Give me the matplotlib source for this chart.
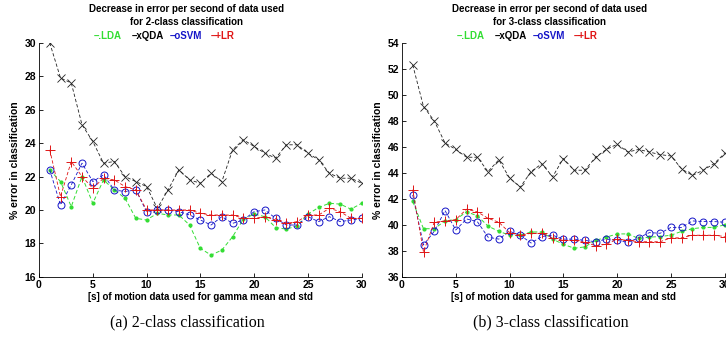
import matplotlib.pyplot as plt
import numpy as np

plt.rcParams['font.family'] = ['Liberation Sans', 'DejaVu Sans']

seconds = np.arange(1, 31)

# 2-class classification (% error)
lda_2 = [22.4, 21.7, 20.2, 22.0, 20.4, 21.8, 21.2, 20.7, 19.5, 19.4,
         19.8, 19.7, 19.7, 19.1, 17.7, 17.3, 17.6, 18.4, 19.45, 19.75,
         19.6, 18.95, 18.85, 19.05, 19.75, 20.15, 20.4, 20.35, 20.05, 20.4]
qda_2 = [30.0, 27.9, 27.6, 25.1, 24.1, 22.8, 22.9, 22.0, 21.7, 21.4,
         20.1, 21.2, 22.4, 21.8, 21.6, 22.2, 21.7, 23.6, 24.2, 23.8,
         23.4, 23.1, 23.9, 23.9, 23.4, 23.0, 22.2, 21.9, 21.9, 21.6]
svm_2 = [22.4, 20.3, 21.5, 22.8, 21.7, 22.1, 21.2, 21.1, 21.2, 19.9,
         20.0, 20.0, 19.9, 19.7, 19.4, 19.1, 19.6, 19.2, 19.4, 19.9,
         20.0, 19.5, 19.1, 19.1, 19.6, 19.3, 19.6, 19.3, 19.4, 19.5]
lr_2 = [23.6, 20.8, 22.9, 22.0, 21.3, 21.9, 21.8, 21.4, 21.2, 20.0,
        20.0, 20.0, 20.0, 20.0, 19.8, 19.7, 19.7, 19.7, 19.5, 19.5,
        19.6, 19.4, 19.2, 19.3, 19.7, 19.7, 20.1, 19.9, 19.5, 19.5]

# 3-class classification (% error)
lda_3 = [41.8, 39.7, 39.7, 40.3, 40.4, 41.0, 40.7, 39.9, 39.5, 39.2,
         39.2, 39.45, 39.45, 38.9, 38.5, 38.2, 38.3, 38.8, 39.05, 39.3,
         39.3, 38.95, 39.05, 39.1, 39.2, 39.5, 39.7, 39.8, 39.8, 40.0]
qda_3 = [52.3, 49.1, 48.0, 46.3, 45.8, 45.2, 45.2, 44.1, 45.0, 43.6,
         42.9, 44.1, 44.7, 43.7, 45.1, 44.2, 44.2, 45.2, 45.8, 46.2,
         45.6, 45.8, 45.6, 45.4, 45.3, 44.3, 43.8, 44.2, 44.7, 45.5]
svm_3 = [42.3, 38.45, 39.5, 41.1, 39.6, 40.45, 40.25, 39.05, 38.9, 39.5,
         39.2, 38.6, 39.1, 39.2, 38.9, 38.9, 38.8, 38.7, 38.9, 38.8,
         38.65, 39.0, 39.4, 39.35, 39.8, 39.8, 40.3, 40.25, 40.25, 40.2]
lr_3 = [42.7, 37.9, 40.2, 40.3, 40.4, 41.2, 41.0, 40.5, 40.2, 39.4,
        39.2, 39.35, 39.35, 39.0, 38.8, 38.8, 38.65, 38.4, 38.5, 38.9,
        38.8, 38.7, 38.7, 38.7, 39.0, 39.0, 39.2, 39.2, 39.2, 39.1]

GREEN = '#33dd33'
BLUE = '#1515c8'
RED = '#e01515'
DASH = (0, (4, 2.5))

fig = plt.figure(figsize=(7.26, 3.43), dpi=100)

panels = [
    (0.0537, (lda_2, qda_2, svm_2, lr_2), (16, 30), '2-class', '(a) 2-class classification'),
    (0.5537, (lda_3, qda_3, svm_3, lr_3), (36, 54), '3-class', '(b) 3-class classification'),
]

for left, (lda, qda, svm, lr), ylim, cls, caption in panels:
    ax = fig.add_axes([left, 0.193, 0.4445, 0.682])
    ax.plot(seconds, lda, ls=DASH, color=GREEN, marker='.', ms=4, lw=0.7)
    ax.plot(seconds, qda, ls=DASH, color='#222222', marker='x', ms=5.5, mew=0.6, lw=0.6)
    ax.plot(seconds, svm, ls=DASH, color=BLUE, marker='o', ms=5, mfc='none', mew=0.7, lw=0.6)
    ax.plot(seconds, lr, ls=DASH, color=RED, marker='+', ms=6.5, mew=0.7, lw=0.6)

    ax.set_xlim(0, 30)
    ax.set_ylim(*ylim)
    ax.set_xticks(range(0, 31, 5))
    ax.set_yticks(range(ylim[0], ylim[1] + 1, 2))
    ax.spines['top'].set_visible(False)
    ax.spines['right'].set_visible(False)
    ax.spines['left'].set_linewidth(0.6)
    ax.spines['bottom'].set_linewidth(0.6)
    ax.tick_params(direction='in', length=3, width=0.6, labelsize=7.5, pad=2)
    for lab in ax.get_xticklabels() + ax.get_yticklabels():
        lab.set_fontweight('bold')
    ax.set_xlabel('[s] of motion data used for gamma mean and std',
                  fontsize=7, fontweight='bold', labelpad=2)
    ax.set_ylabel('% error in classification', fontsize=7.5, fontweight='bold', labelpad=3)

    cx = left + 0.2025
    fig.text(cx, 0.975, 'Decrease in error per second of data used',
             ha='center', va='center', fontsize=7, fontweight='bold')
    fig.text(cx, 0.935, 'for %s classification' % cls,
             ha='center', va='center', fontsize=7, fontweight='bold')

    # colored legend line under the title
    items = [('–.LDA', GREEN, -0.108), ('–xQDA', 'black', -0.052),
             ('–oSVM', BLUE, 0.0), ('–+LR', RED, 0.05)]
    for txt, col, dx in items:
        fig.text(cx + dx, 0.895, txt, ha='center', va='center',
                 fontsize=7, fontweight='bold', color=col)

    fig.text(left + 0.205, 0.06, caption, ha='center', va='center',
             fontsize=11.5, family=['Liberation Serif', 'DejaVu Serif'])

fig.savefig('out.png', dpi=100)
